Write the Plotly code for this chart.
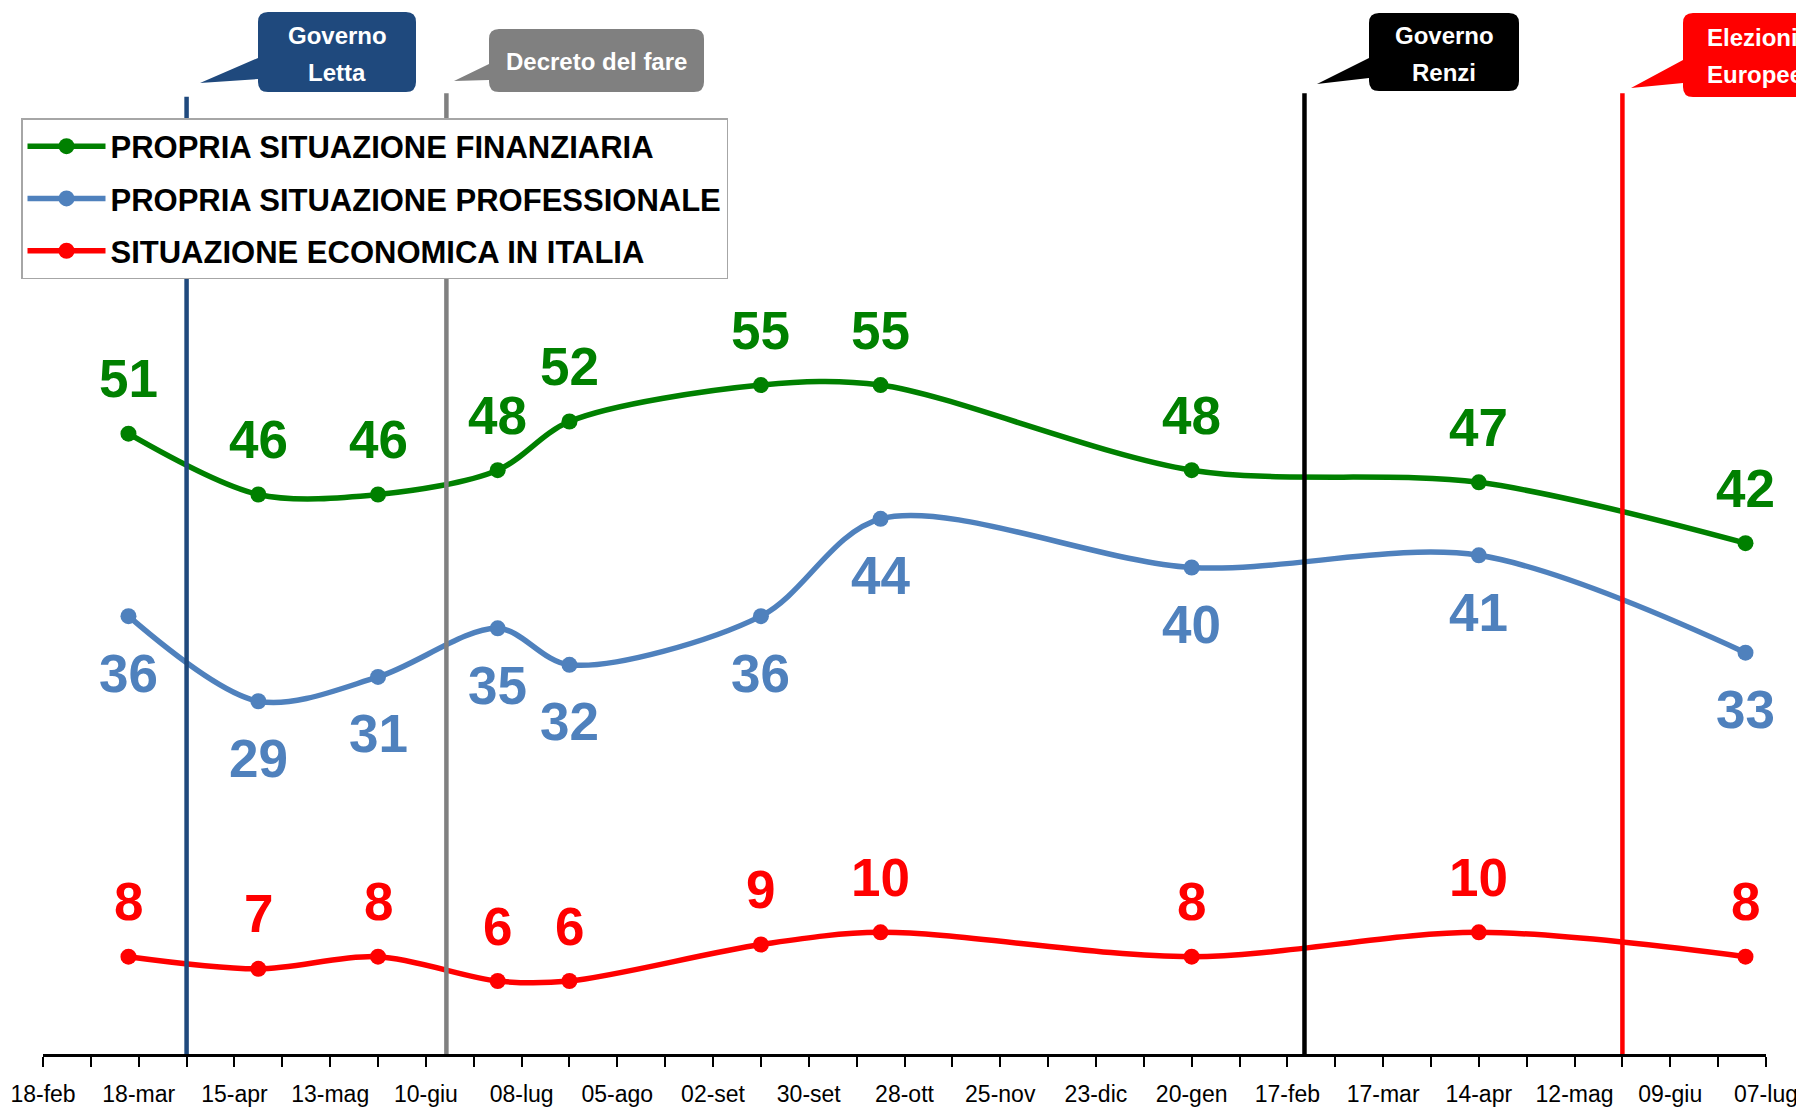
import plotly.graph_objects as go

# ---------------- data ----------------
survey_dates = ['2013-03-15', '2013-04-22', '2013-05-27', '2013-07-01', '2013-07-22',
                '2013-09-16', '2013-10-21', '2014-01-20', '2014-04-14', '2014-07-01']
finanziaria = [51, 46, 46, 48, 52, 55, 55, 48, 47, 42]
professionale = [36, 29, 31, 35, 32, 36, 44, 40, 41, 33]
economia_italia = [8, 7, 8, 6, 6, 9, 10, 8, 10, 8]

series_names = ['PROPRIA SITUAZIONE FINANZIARIA',
                'PROPRIA SITUAZIONE PROFESSIONALE',
                'SITUAZIONE ECONOMICA IN ITALIA']

tick_dates = ['2013-02-18', '2013-03-18', '2013-04-15', '2013-05-13', '2013-06-10',
              '2013-07-08', '2013-08-05', '2013-09-02', '2013-09-30', '2013-10-28',
              '2013-11-25', '2013-12-23', '2014-01-20', '2014-02-17', '2014-03-17',
              '2014-04-14', '2014-05-12', '2014-06-09', '2014-07-07']
tick_labels = ['18-feb', '18-mar', '15-apr', '13-mag', '10-giu', '08-lug', '05-ago',
               '02-set', '30-set', '28-ott', '25-nov', '23-dic', '20-gen', '17-feb',
               '17-mar', '14-apr', '12-mag', '09-giu', '07-lug']

event_dates = ['2013-04-01', '2013-06-16', '2014-02-22', '2014-05-26']
event_labels = ['Governo<br>Letta', 'Decreto del fare', 'Governo<br>Renzi', 'Elezioni<br>Europee']

# ---------------- styles ----------------
FONT = 'Liberation Sans, Arial, sans-serif'
GREEN = '#008000'
BLUE = '#4F81BD'
RED = '#FF0000'
event_colors = ['#1F497D', '#808080', '#000000', '#FF0000']

# target plot box in window (screen) pixels; page body has an 8px margin
PAGE_OFF = 8
WIN_W, WIN_H = 1804, 1111
SX0, SX1, SY0, SY1 = 43, 1766, 8, 1054
W, H = WIN_W - PAGE_OFF, WIN_H - PAGE_OFF
ML, MR, MT, MB = SX0 - PAGE_OFF, WIN_W - SX1, SY0 - PAGE_OFF, WIN_H - SY1
PW = SX1 - SX0
PH = SY1 - SY0


def px_to_paper(X, Y):
    return (X - SX0) / PW, (SY1 - Y) / PH


fig = go.Figure()
for i, (name, vals, col) in enumerate([(series_names[0], finanziaria, GREEN),
                                       (series_names[1], professionale, BLUE),
                                       (series_names[2], economia_italia, RED)]):
    fig.add_trace(go.Scatter(
        x=survey_dates, y=vals, name=name, mode='lines+markers', legendgroup=f'g{i}',
        line=dict(color=col, width=5.5, shape='spline', smoothing=0.9),
        marker=dict(color=col, size=16),
    ))

annotations = []
# data labels
for vals, col, shift in [(finanziaria, GREEN, 55), (professionale, BLUE, -57),
                         (economia_italia, RED, 55)]:
    for d, v in zip(survey_dates, vals):
        annotations.append(dict(
            x=d, y=v, xref='x', yref='y', text=str(v), showarrow=False,
            yshift=shift, font=dict(family=FONT, size=53, color=col, weight='bold')))

shapes = []
# event vertical lines
line_tops = [78.7, 79.0, 79.0, 79.0]
line_bottoms = [0, 0, -0.8, 0]
for d, c, t, b in zip(event_dates, event_colors, line_tops, line_bottoms):
    shapes.append(dict(type='line', xref='x', yref='y', x0=d, x1=d, y0=b, y1=t,
                       line=dict(color=c, width=4.5), layer='above'))

# callout boxes (screen px geometry)
callouts = [
    # L, T, R, B, tipx, tipy, base_y1, base_y2
    (258, 12, 416, 92, 200, 83, 58, 79),
    (489, 29, 704, 92, 454, 81, 64, 80),
    (1369, 13, 1519, 91, 1317, 84, 58, 78),
    (1683, 13, 1900, 97, 1631, 88, 60, 83),
]


def callout_path(L, T, R, B, tx, ty, b1, b2, r=10):
    def p(X, Y):
        return f'{X - SX0:.1f},{SY0 - Y:.1f}'
    return ('M' + p(L + r, T) + ' L' + p(R - r, T) + ' Q' + p(R, T) + ' ' + p(R, T + r) +
            ' L' + p(R, B - r) + ' Q' + p(R, B) + ' ' + p(R - r, B) +
            ' L' + p(L + r, B) + ' Q' + p(L, B) + ' ' + p(L, B - r) +
            ' L' + p(L, b2) + ' L' + p(tx, ty) + ' L' + p(L, b1) +
            ' L' + p(L, T + r) + ' Q' + p(L, T) + ' ' + p(L + r, T) + ' Z')


for (L, T, R, B, tx, ty, b1, b2), c in zip(callouts, event_colors):
    shapes.append(dict(type='path', xref='paper', yref='paper', xsizemode='pixel',
                       ysizemode='pixel', xanchor=0, yanchor=1,
                       path=callout_path(L, T, R, B, tx, ty, b1, b2),
                       fillcolor=c, line=dict(width=0), layer='above'))

# callout texts: each line placed separately (wider line spacing as in the original)
text_pos = [(337, 54, 'center'), (596, 62, 'center'), (1444, 54, 'center'), (1705, 56, 'left')]
LINE_GAP = 36
for (X, Y, anc), txt in zip(text_pos, event_labels):
    lines = txt.split('<br>')
    n = len(lines)
    for k, ln in enumerate(lines):
        yy = Y + (k - (n - 1) / 2) * LINE_GAP
        xp, yp = px_to_paper(X, yy)
        annotations.append(dict(x=xp, y=yp, xref='paper', yref='paper', text=ln,
                                showarrow=False, xanchor=anc, yanchor='middle', align='center',
                                font=dict(family=FONT, size=24, color='white', weight='bold')))

lx, ly = px_to_paper(21, 118)

fig.update_layout(
    width=W, height=H,
    margin=dict(l=ML, r=MR, t=MT, b=MB, autoexpand=False),
    paper_bgcolor='white', plot_bgcolor='white',
    showlegend=True,
    legend=dict(x=lx, y=ly, xanchor='left', yanchor='top',
                bgcolor='white', bordercolor='#A6A6A6', borderwidth=1.5,
                font=dict(family=FONT, size=31, color='black', weight='bold'),
                itemwidth=78, tracegroupgap=9),
    xaxis=dict(
        range=[tick_dates[0], tick_dates[-1]], type='date',
        tickmode='array', tickvals=tick_dates, ticktext=tick_labels,
        showgrid=False, zeroline=False,
        showline=True, linecolor='black', linewidth=3,
        ticks='outside', ticklen=10, tickwidth=2, tickcolor='black',
        tickfont=dict(family=FONT, size=23, color='black'),
        ticklabelstandoff=7, ticklabeloverflow='allow',
        minor=dict(tickmode='linear', tick0=tick_dates[0], dtick=14 * 86400000,
                   ticks='outside', ticklen=10, tickwidth=2, tickcolor='black',
                   showgrid=False),
    ),
    yaxis=dict(range=[0, 86], visible=False, showgrid=False, zeroline=False),
    annotations=annotations,
    shapes=shapes,
)

fig.write_html('out.html')
